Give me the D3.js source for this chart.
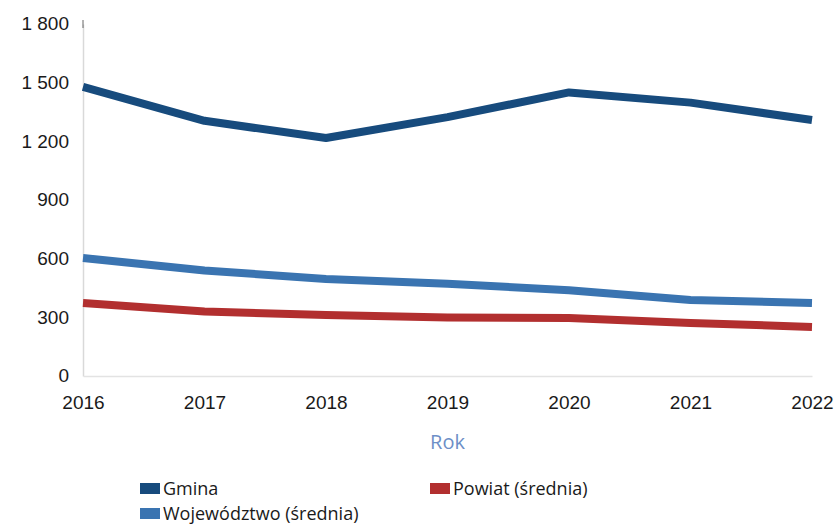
<!DOCTYPE html>
<html>
<head>
<meta charset="utf-8">
<script src="https://cdn.jsdelivr.net/npm/d3@7"></script>
<style>
  body { margin: 0; background: #fff; }
  svg { display: block; font-family: "Open Sans", "Noto Sans", sans-serif; }
  .tick text { fill: #1a1a1a; font-size: 19px; }
</style>
</head>
<body>
<svg id="chart"></svg>
<script>
const years = [2016, 2017, 2018, 2019, 2020, 2021, 2022];
const gmina = [1478, 1305, 1217, 1324, 1450, 1398, 1309];
const wojewodztwo = [603, 540, 496, 472, 438, 389, 373];
const powiat = [373, 330, 312, 299, 297, 271, 251];
const yTicks = [0, 300, 600, 900, 1200, 1500, 1800];

const series = [
  { name: 'Gmina', values: gmina, color: '#174b7d' },
  { name: 'Województwo (średnia)', values: wojewodztwo, color: '#3a74b1' },
  { name: 'Powiat (średnia)', values: powiat, color: '#b22f2f' }
];

const width = 837,
      height = 526,
      margin = { top: 24, right: 25, bottom: 150, left: 83 };

const $chart = d3.select('#chart')
  .attr('width', width)
  .attr('height', height);

const x = d3.scalePoint()
  .domain(years)
  .range([margin.left, width - margin.right]);

const y = d3.scaleLinear()
  .domain([0, 1800])
  .range([height - margin.bottom, margin.top]);

const fmt = d3.formatLocale({ decimal: ',', thousands: '\u00a0', grouping: [3], currency: ['', ''] }).format(',d');

// y axis
const yAxis = $chart.append('g')
  .attr('transform', `translate(${margin.left},0)`)
  .call(d3.axisLeft(y).tickValues(yTicks).tickSize(0).tickPadding(14).tickFormat(fmt));
yAxis.select('.domain').attr('stroke', '#d9d9d9').attr('stroke-width', 1.5);
yAxis.selectAll('.tick text').attr('dy', '0.3em');

// x axis
const xAxis = $chart.append('g')
  .attr('transform', `translate(0,${height - margin.bottom})`)
  .call(d3.axisBottom(x).tickSize(0).tickPadding(27).tickFormat(d3.format('d')));
xAxis.select('.domain').attr('stroke', '#e3e3e3').attr('stroke-width', 1.5);
xAxis.selectAll('.tick text').attr('dy', '0.3em');

// little tick at top of y axis
$chart.append('line')
  .attr('x1', margin.left).attr('x2', margin.left)
  .attr('y1', margin.top - 4).attr('y2', margin.top + 4)
  .attr('stroke', '#666').attr('stroke-width', 1);

$chart.append('text')
  .attr('x', (margin.left + width - margin.right) / 2)
  .attr('y', 449)
  .attr('text-anchor', 'middle')
  .attr('fill', '#6d8fc7')
  .style('font-size', '20px')
  .text('Rok');

const line = d3.line()
  .x((d, i) => x(years[i]))
  .y((d) => y(d));

$chart.selectAll('.series')
  .data(series)
  .enter()
  .append('path')
    .classed('series', true)
    .attr('d', (d) => line(d.values))
    .attr('fill', 'none')
    .attr('stroke', (d) => d.color)
    .attr('stroke-width', 8)
    .attr('stroke-linejoin', 'round');

// legend
const legendPos = [
  { x: 140, y: 489 },
  { x: 140, y: 514 },
  { x: 430, y: 489 }
];

const legend = $chart.selectAll('.legend')
  .data(series)
  .enter()
  .append('g')
    .classed('legend', true)
    .attr('transform', (d, i) => `translate(${legendPos[i].x},${legendPos[i].y})`);

legend.append('rect')
  .attr('x', 0)
  .attr('y', -6)
  .attr('width', 20)
  .attr('height', 11)
  .attr('fill', (d) => d.color);

legend.append('text')
  .attr('x', 23)
  .attr('y', 0)
  .attr('dy', '0.35em')
  .attr('fill', '#1a1a1a')
  .style('font-size', '18px')
  .text((d) => d.name);
</script>
</body>
</html>
